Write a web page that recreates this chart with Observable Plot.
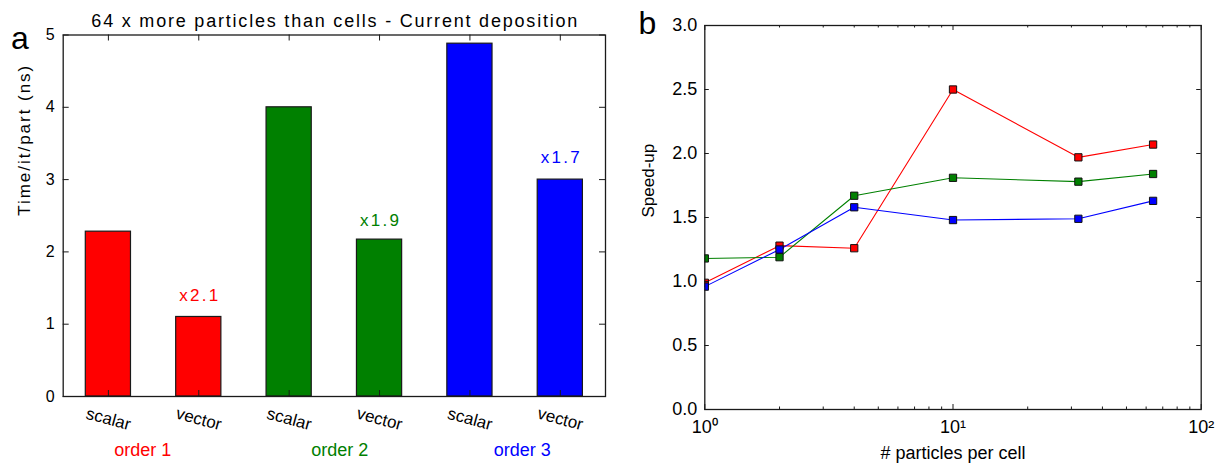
<!DOCTYPE html>
<html><head><meta charset="utf-8">
<script src="https://cdn.jsdelivr.net/npm/d3@7"></script>
<script src="https://cdn.jsdelivr.net/npm/@observablehq/plot@0.6"></script>
<style>
html,body{margin:0;padding:0;background:#fff;}
#wrap{position:relative;width:1220px;height:464px;overflow:hidden;font-family:"Liberation Sans",Arial,sans-serif;}
#wrap > svg{position:absolute;top:0;}
</style></head><body><div id="wrap"></div>
<script>
// ---------- Panel a data ----------
const barLabels = ["scalar", "vector", "scalar", "vector", "scalar", "vector"];
const barOrder = ["order 1", "order 1", "order 2", "order 2", "order 3", "order 3"];
const barTimes = [2.28, 1.10, 4.00, 2.17, 4.88, 3.00];
const orderNames = ["order 1", "order 2", "order 3"];
const orderColors = ["#ff0000", "#008000", "#0000ff"];
const orderLabelX = [0.38, 2.56, 4.58];          // in bar-index units
const gainText = ["x2.1", "x1.9", "x1.7"];
const gainX = [1, 3, 5];                          // bar index of vector bars
const gainY = [1.40, 2.43, 3.30];                 // in ns units
const yTicksA = [0, 1, 2, 3, 4, 5];
const titleA = "64 x more particles than cells - Current deposition";
const yLabelA = "Time/it/part (ns)";

// ---------- Panel b data ----------
const particlesPerCell = [1, 2, 4, 10, 32, 64];
const speedupOrder1 = [0.99, 1.28, 1.26, 2.50, 1.97, 2.07];
const speedupOrder2 = [1.18, 1.19, 1.67, 1.81, 1.78, 1.84];
const speedupOrder3 = [0.96, 1.25, 1.58, 1.48, 1.49, 1.63];
const yTicksB = [0, 0.5, 1, 1.5, 2, 2.5, 3];
const xMajorB = [1, 10, 100];
const xMajorLabels = ["10\u2070", "10\u00B9", "10\u00B2"];
const xMinorB = [2, 3, 4, 5, 6, 7, 8, 9, 20, 30, 40, 50, 60, 70, 80, 90];
const xLabelB = "# particles per cell";
const yLabelB = "Speed-up";

const FONT = "Liberation Sans, Arial, sans-serif";
const INK = "#1a1a1a";
const colorScale = {domain: orderNames, range: orderColors, legend: false};
const M = {lineAnchor: "middle"};

// ---------- Panel a ----------
const A = {w: 620, h: 464, ml: 62.7, mr: 15, mt: 34.5, mb: 68};
const fwA = A.w - A.ml - A.mr, fhA = A.h - A.mt - A.mb;
const bars = barTimes.map((t, i) => ({i, t, label: barLabels[i], order: barOrder[i]}));
const idx = bars.map(d => d.i);

const plotA = Plot.plot({
  width: A.w, height: A.h,
  marginLeft: A.ml, marginRight: A.mr, marginTop: A.mt, marginBottom: A.mb,
  style: {fontFamily: FONT, background: "transparent", overflow: "visible"},
  x: {type: "linear", domain: [-0.5, 5.5], axis: null},
  y: {domain: [0, 5], axis: null},
  color: colorScale,
  marks: [
    Plot.rectY(bars, {x1: d => d.i - 0.25, x2: d => d.i + 0.25, y1: 0, y2: "t", fill: "order", stroke: INK, strokeWidth: 1.2}),
    Plot.ruleY(yTicksA, {y: d => d, insetRight: fwA - 6, stroke: INK}),
    Plot.ruleY(yTicksA, {y: d => d, insetLeft: fwA - 6, stroke: INK}),
    Plot.ruleX(idx, {x: d => d, insetTop: fhA - 6, stroke: INK}),
    Plot.ruleX(idx, {x: d => d, insetBottom: fhA - 6, stroke: INK}),
    Plot.frame({stroke: INK, strokeWidth: 1.3}),
    Plot.text(yTicksA, {...M, y: d => d, frameAnchor: "left", text: d => String(d), textAnchor: "end", dx: -8.5, fontSize: 16, fill: "#000"}),
    Plot.text(bars, {...M, x: "i", frameAnchor: "bottom", dy: 22.5, rotate: 15, text: "label", fontSize: 17, fill: "#000"}),
    Plot.text(orderNames, {...M, x: (d, i) => orderLabelX[i], frameAnchor: "bottom", dy: 54, text: d => d, fill: d => d, fontSize: 18}),
    Plot.text(gainText, {...M, x: (d, i) => gainX[i], y: (d, i) => gainY[i], text: d => d, fill: (d, i) => orderNames[i], fontSize: 17}),
    Plot.text([titleA], {...M, frameAnchor: "top", dy: -14, text: d => d, fontSize: 18, fill: "#000"}),
    Plot.text(["a"], {...M, frameAnchor: "top-left", dx: -43.2, dy: 3.5, text: d => d, textAnchor: "middle", fontSize: 32, fill: "#000"}),
    Plot.text([yLabelA], {...M, frameAnchor: "left", dx: -39, rotate: -90, text: d => d, fontSize: 17, fill: "#000"})
  ]
});

// ---------- Panel b ----------
const B = {w: 600, h: 464, ml: 84.3, mr: 19.3, mt: 25, mb: 55};
const fwB = B.w - B.ml - B.mr, fhB = B.h - B.mt - B.mb;
const series = [speedupOrder1, speedupOrder2, speedupOrder3];
const rowsB = series.flatMap((s, k) => s.map((v, j) => ({n: particlesPerCell[j], s: v, order: orderNames[k]})));

const plotB = Plot.plot({
  width: B.w, height: B.h,
  marginLeft: B.ml, marginRight: B.mr, marginTop: B.mt, marginBottom: B.mb,
  style: {fontFamily: FONT, background: "transparent", overflow: "visible"},
  x: {type: "log", domain: [1, 100], axis: null},
  y: {domain: [0, 3], axis: null},
  color: colorScale,
  marks: [
    Plot.line(rowsB, {x: "n", y: "s", z: "order", stroke: "order", strokeWidth: 1.1, clip: true}),
    Plot.dot(rowsB, {x: "n", y: "s", fill: "order", stroke: "#111", strokeWidth: 1, symbol: "square", r: 4.1, clip: true}),
    Plot.ruleY(yTicksB, {y: d => d, insetRight: fwB - 4.5, stroke: INK}),
    Plot.ruleY(yTicksB, {y: d => d, insetLeft: fwB - 4.5, stroke: INK}),
    Plot.ruleX(xMajorB, {x: d => d, insetTop: fhB - 5, stroke: INK}),
    Plot.ruleX(xMajorB, {x: d => d, insetBottom: fhB - 5, stroke: INK}),
    Plot.ruleX(xMinorB, {x: d => d, insetTop: fhB - 2.5, stroke: INK}),
    Plot.ruleX(xMinorB, {x: d => d, insetBottom: fhB - 2.5, stroke: INK}),
    Plot.frame({stroke: INK, strokeWidth: 1.3}),
    Plot.text(yTicksB, {...M, y: d => d, frameAnchor: "left", text: d => d.toFixed(1), textAnchor: "end", dx: -7.6, fontSize: 18, fill: "#000"}),
    Plot.text(xMajorB, {...M, x: d => d, frameAnchor: "bottom", dy: 18, text: (d, i) => xMajorLabels[i], fontSize: 18, fill: "#000"}),
    Plot.text([xLabelB], {...M, frameAnchor: "bottom", dy: 44, text: d => d, fontSize: 18, fill: "#000"}),
    Plot.text([yLabelB], {...M, frameAnchor: "left", dx: -56, rotate: -90, text: d => d, fontSize: 17, fill: "#000"}),
    Plot.text(["b"], {...M, frameAnchor: "top-left", dx: -57.3, dy: -1.9, text: d => d, textAnchor: "middle", fontSize: 32, fill: "#000"})
  ]
});

const wrap = document.getElementById("wrap");
plotA.style.left = "0px";
plotB.style.left = "620px";
wrap.appendChild(plotA);
wrap.appendChild(plotB);

// Match the reference's looser tracking on a few strings
function stretch(svg, str, len) {
  d3.select(svg).selectAll("text").filter(function () { return this.textContent === str; })
    .attr("textLength", len).attr("lengthAdjust", "spacing");
}
stretch(plotA, titleA, 486);
stretch(plotA, yLabelA, 150);
gainText.forEach(t => stretch(plotA, t, 39));
</script>
</body></html>
